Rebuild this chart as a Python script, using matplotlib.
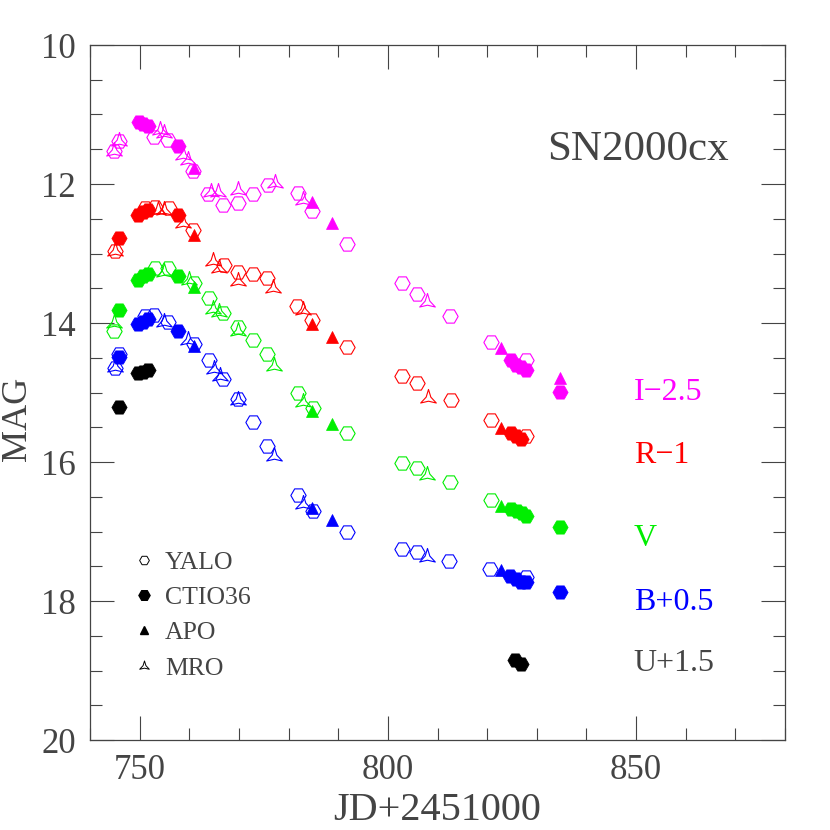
import matplotlib
matplotlib.use("Agg")
import numpy as np
import matplotlib.pyplot as plt
from matplotlib.lines import Line2D
from matplotlib.path import Path
from matplotlib.ticker import MultipleLocator

# light curve points (JD-2451000, offset magnitude)
I_YALO = [(745.9, 11.38), (744.8, 11.53), (752.9, 11.32), (755.7, 11.36), (760.7, 11.82),
          (763.7, 12.14), (766.8, 12.30), (769.8, 12.27), (772.8, 12.15), (775.8, 12.01),
          (781.9, 12.13), (784.7, 12.39), (791.7, 12.86), (802.8, 13.42), (805.9, 13.58),
          (812.6, 13.90), (820.8, 14.28), (827.8, 14.53)]
I_CTIO = [(749.8, 11.11), (750.6, 11.13), (751.7, 11.17), (757.8, 11.45), (824.8, 14.53),
          (825.8, 14.60), (826.8, 14.63), (827.8, 14.68), (834.7, 14.99)]
I_APO = [(760.9, 11.77), (784.7, 12.26), (788.8, 12.56), (822.8, 14.36), (834.6, 14.79)]
I_MRO = [(745.9, 11.38), (744.8, 11.53), (754.0, 11.22), (755.0, 11.26), (758.7, 11.58),
         (759.7, 11.65), (764.4, 12.11), (765.8, 12.11), (769.9, 12.09), (777.2, 11.98),
         (782.9, 12.23), (807.9, 13.70)]

R_YALO = [(745.0, 12.97), (751.0, 12.35), (753.0, 12.33), (756.0, 12.35), (760.7, 12.66),
          (767.0, 13.16), (769.8, 13.27), (772.8, 13.29), (775.7, 13.35), (781.7, 13.75),
          (784.7, 13.95), (791.7, 14.34), (802.8, 14.76), (805.9, 14.87), (812.8, 15.11),
          (820.8, 15.40), (827.8, 15.62)]
R_CTIO = [(745.8, 12.78), (749.7, 12.44), (750.7, 12.41), (751.7, 12.38), (757.8, 12.44),
          (824.8, 15.58), (825.8, 15.63), (826.8, 15.67)]
R_APO = [(760.9, 12.74), (784.7, 14.01), (788.8, 14.20), (822.8, 15.51)]
R_MRO = [(745.0, 12.97), (753.7, 12.37), (755.0, 12.37), (758.7, 12.56), (764.7, 13.11),
         (765.9, 13.21), (769.8, 13.40), (776.8, 13.50), (782.9, 13.81), (808.0, 15.08)]

V_YALO = [(744.8, 14.11), (753.0, 13.21), (755.8, 13.21), (760.9, 13.42), (763.9, 13.64),
          (766.8, 13.86), (769.8, 14.06), (772.8, 14.24), (775.7, 14.45), (781.9, 15.01),
          (784.9, 15.22), (791.7, 15.58), (802.8, 16.01), (805.9, 16.09), (812.6, 16.29),
          (820.8, 16.54)]
V_CTIO = [(745.8, 13.81), (749.7, 13.38), (750.7, 13.33), (751.7, 13.29), (757.8, 13.32),
          (824.8, 16.68), (826.0, 16.71), (827.1, 16.74), (827.9, 16.77), (834.7, 16.94)]
V_APO = [(760.9, 13.48), (784.7, 15.26), (788.8, 15.46), (822.8, 16.63)]
V_MRO = [(744.8, 14.00), (755.0, 13.26), (759.9, 13.38), (764.7, 13.80), (766.0, 13.84),
         (769.8, 14.12), (777.0, 14.62), (782.9, 15.14), (807.9, 16.18)]

B_YALO = [(745.8, 14.45), (745.0, 14.65), (751.0, 13.90), (752.9, 13.88), (755.8, 13.99),
          (760.9, 14.30), (763.9, 14.53), (766.8, 14.81), (769.8, 15.09), (772.8, 15.42),
          (775.7, 15.77), (781.9, 16.47), (784.9, 16.71), (791.7, 17.01), (802.8, 17.25),
          (805.9, 17.29), (812.4, 17.42), (820.6, 17.54), (827.8, 17.65)]
B_CTIO = [(745.8, 14.49), (749.7, 14.01), (750.7, 13.98), (751.7, 13.94), (757.8, 14.12),
          (824.6, 17.64), (825.8, 17.68), (826.8, 17.73), (827.8, 17.73), (834.7, 17.87)]
B_APO = [(760.9, 14.33), (784.7, 16.66), (788.8, 16.83), (822.8, 17.56)]
B_MRO = [(745.0, 14.63), (755.0, 13.99), (759.7, 14.24), (764.9, 14.66), (766.1, 14.76),
         (769.8, 15.11), (777.0, 15.92), (782.9, 16.60), (807.9, 17.36)]

U_CTIO = [(745.8, 15.21), (749.7, 14.72), (750.7, 14.70), (751.7, 14.68), (825.7, 18.85),
          (826.8, 18.91)]

band_labels = ["I\u22122.5", "R\u22121", "V", "B+0.5", "U+1.5"]
band_label_mag = [15.0, 15.9, 17.1, 18.02, 18.9]
band_colors = ["#ff00ff", "#ff0000", "#00ee00", "#0000ff", "#000000"]

FONT = "Liberation Serif"
GREY = "#444444"

# MRO symbol: open three-pointed star with concave sides
ang_out = np.radians([90, 210, 330])
ang_in = np.radians([150, 270, 30])
verts = []
for a, b in zip(ang_out, ang_in):
    verts.append((np.cos(a), np.sin(a)))
    verts.append((0.3 * np.cos(b), 0.3 * np.sin(b)))
verts.append(verts[0])
TRI = Path(verts, [Path.MOVETO] + [Path.LINETO] * 5 + [Path.CLOSEPOLY])

fig = plt.figure(figsize=(8.3, 8.3), dpi=100)
ax = fig.add_axes([90 / 830, 90 / 830, 695 / 830, 695 / 830])

bands = [
    (I_YALO, I_CTIO, I_APO, I_MRO),
    (R_YALO, R_CTIO, R_APO, R_MRO),
    (V_YALO, V_CTIO, V_APO, V_MRO),
    (B_YALO, B_CTIO, B_APO, B_MRO),
    ([], U_CTIO, [], []),
]


def xy(pts):
    return [p[0] for p in pts], [p[1] for p in pts]


for (yalo, ctio, apo, mro), col in zip(bands, band_colors):
    if yalo:
        x, y = xy(yalo)
        ax.plot(x, y, ls="none", marker="H", ms=11, mfc="none", mec=col, mew=0.8)
    if mro:
        x, y = xy(mro)
        ax.plot(x, y, ls="none", marker=TRI, ms=13, mfc="none", mec=col, mew=0.8)
    if ctio:
        x, y = xy(ctio)
        ax.plot(x, y, ls="none", marker="H", ms=11, mfc=col, mec=col, mew=0.5)
    if apo:
        x, y = xy(apo)
        ax.plot(x, y, ls="none", marker="^", ms=8, mfc=col, mec=col, mew=0.5)

for lab, m, col in zip(band_labels, band_label_mag, band_colors):
    c = GREY if col == "#000000" else col
    ax.text(849.5, m, lab, color=c, fontsize=23, family=FONT, va="center", ha="left")

ax.text(832.0, 11.5, "SN2000cx", color=GREY, fontsize=31, family=FONT, va="center", ha="left")

handles = [
    Line2D([], [], ls="none", marker="H", ms=7, mfc="none", mec="k", mew=0.7),
    Line2D([], [], ls="none", marker="H", ms=8, mfc="k", mec="k"),
    Line2D([], [], ls="none", marker="^", ms=6, mfc="k", mec="k"),
    Line2D([], [], ls="none", marker=TRI, ms=8, mfc="none", mec="k", mew=0.7),
]
leg = ax.legend(handles, ["YALO", "CTIO36", "APO", "MRO"], loc="lower left",
                bbox_to_anchor=(0.045, 0.072), frameon=False, handlelength=1.0,
                handletextpad=0.3, labelspacing=0.48, borderaxespad=0,
                prop={"family": FONT, "size": 18.5})
for t in leg.get_texts():
    t.set_color(GREY)

ax.set_xlim(740, 880)
ax.set_ylim(20, 10)
ax.set_xticks([750, 800, 850])
ax.xaxis.set_minor_locator(MultipleLocator(10))
ax.yaxis.set_major_locator(MultipleLocator(2))
ax.yaxis.set_minor_locator(MultipleLocator(0.5))
ax.tick_params(which="both", direction="in", top=True, right=True, colors=GREY, width=0.8,
               labelsize=25, pad=10)
ax.tick_params(which="major", length=17)
ax.tick_params(which="minor", length=8.5)
for lbl in ax.get_xticklabels() + ax.get_yticklabels():
    lbl.set_family(FONT)
for s in ax.spines.values():
    s.set_color(GREY)
    s.set_linewidth(0.9)

ax.set_xlabel("JD+2451000", fontsize=29, family=FONT, color=GREY)
ax.set_ylabel("MAG", fontsize=26, family=FONT, color=GREY)
ax.xaxis.set_label_coords(0.5, -0.075)
ax.yaxis.set_label_coords(-0.08, 0.462)

fig.savefig("out.png", dpi=100)
